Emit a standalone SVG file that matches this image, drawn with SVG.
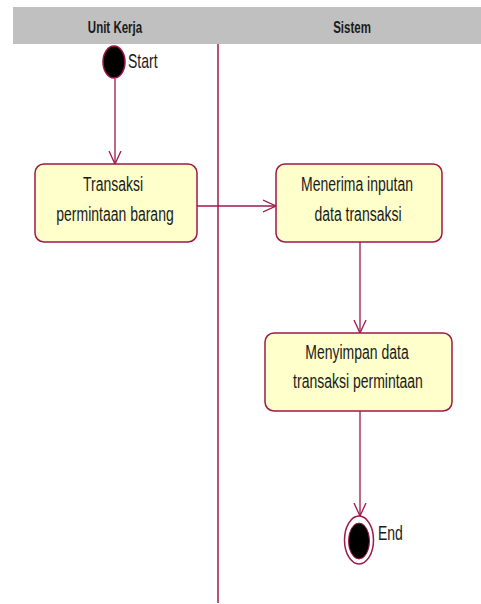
<svg xmlns="http://www.w3.org/2000/svg" width="481" height="604" viewBox="0 0 481 604">
<style>
.hdr{font-family:"Liberation Sans",Arial,sans-serif;font-weight:bold;font-size:11.5px;fill:#1a1a1a;text-anchor:middle}
.lbl{font-family:"Liberation Sans",Arial,sans-serif;font-size:14px;fill:#1a1a1a;text-anchor:middle}
.side{font-family:"Liberation Sans",Arial,sans-serif;font-size:14px;fill:#1a1a1a}
.node{fill:#FFFFCC;stroke:#A0174A;stroke-width:1.5}
.conn{stroke:#A0174A;stroke-width:1.3;fill:none}
</style>
<defs>
<marker id="arr" markerWidth="14" markerHeight="14" refX="13" refY="7" orient="auto" markerUnits="userSpaceOnUse" viewBox="0 0 14 14">
<path d="M0,1 L13,7 L0,13" fill="none" stroke="#A0174A" stroke-width="1.3"/>
</marker>
</defs>
<rect x="0" y="0" width="481" height="604" fill="#ffffff"/>
<g id="swimlanes">
<rect x="13" y="7" width="468" height="37" fill="#C0C0C0"/>
<text class="hdr" transform="translate(115,33) scale(1,1.4)">Unit Kerja</text>
<text class="hdr" transform="translate(352,33) scale(1,1.4)">Sistem</text>
<line x1="218" y1="44" x2="218" y2="603" stroke="#A0174A" stroke-width="1.5"/>
</g>
<g id="connectors">
<line class="conn" x1="115" y1="79" x2="115" y2="164" marker-end="url(#arr)"/>
<line class="conn" x1="197" y1="206" x2="276" y2="206" marker-end="url(#arr)"/>
<line class="conn" x1="360" y1="242" x2="360" y2="333" marker-end="url(#arr)"/>
<line class="conn" x1="360" y1="411" x2="360" y2="516" marker-end="url(#arr)"/>
</g>
<g id="start">
<ellipse cx="114" cy="62" rx="11" ry="16" fill="#000" stroke="#A0174A" stroke-width="1.5"/>
<text class="side" transform="translate(128,68) scale(1,1.45)">Start</text>
</g>
<g id="node1">
<rect class="node" x="35" y="164" width="162" height="78" rx="9" ry="9"/>
<text class="lbl" transform="translate(113,191) scale(1,1.5)">Transaksi</text>
<text class="lbl" transform="translate(115,221) scale(1,1.5)">permintaan barang</text>
</g>
<g id="node2">
<rect class="node" x="276" y="164" width="166" height="78" rx="9" ry="9"/>
<text class="lbl" transform="translate(357,191) scale(1,1.5)">Menerima inputan</text>
<text class="lbl" transform="translate(358,221) scale(1,1.5)">data transaksi</text>
</g>
<g id="node3">
<rect class="node" x="265" y="333" width="187" height="78" rx="9" ry="9"/>
<text class="lbl" transform="translate(357,359) scale(1,1.5)">Menyimpan data</text>
<text class="lbl" transform="translate(358,388) scale(1,1.5)">transaksi permintaan</text>
</g>
<g id="end">
<ellipse cx="359" cy="540" rx="14.5" ry="24" fill="#fff" stroke="#A0174A" stroke-width="1.5"/>
<ellipse cx="359" cy="541" rx="10.5" ry="18" fill="#000" stroke="#A0174A" stroke-width="1"/>
<text class="side" transform="translate(378,540) scale(1,1.5)">End</text>
</g>
</svg>
